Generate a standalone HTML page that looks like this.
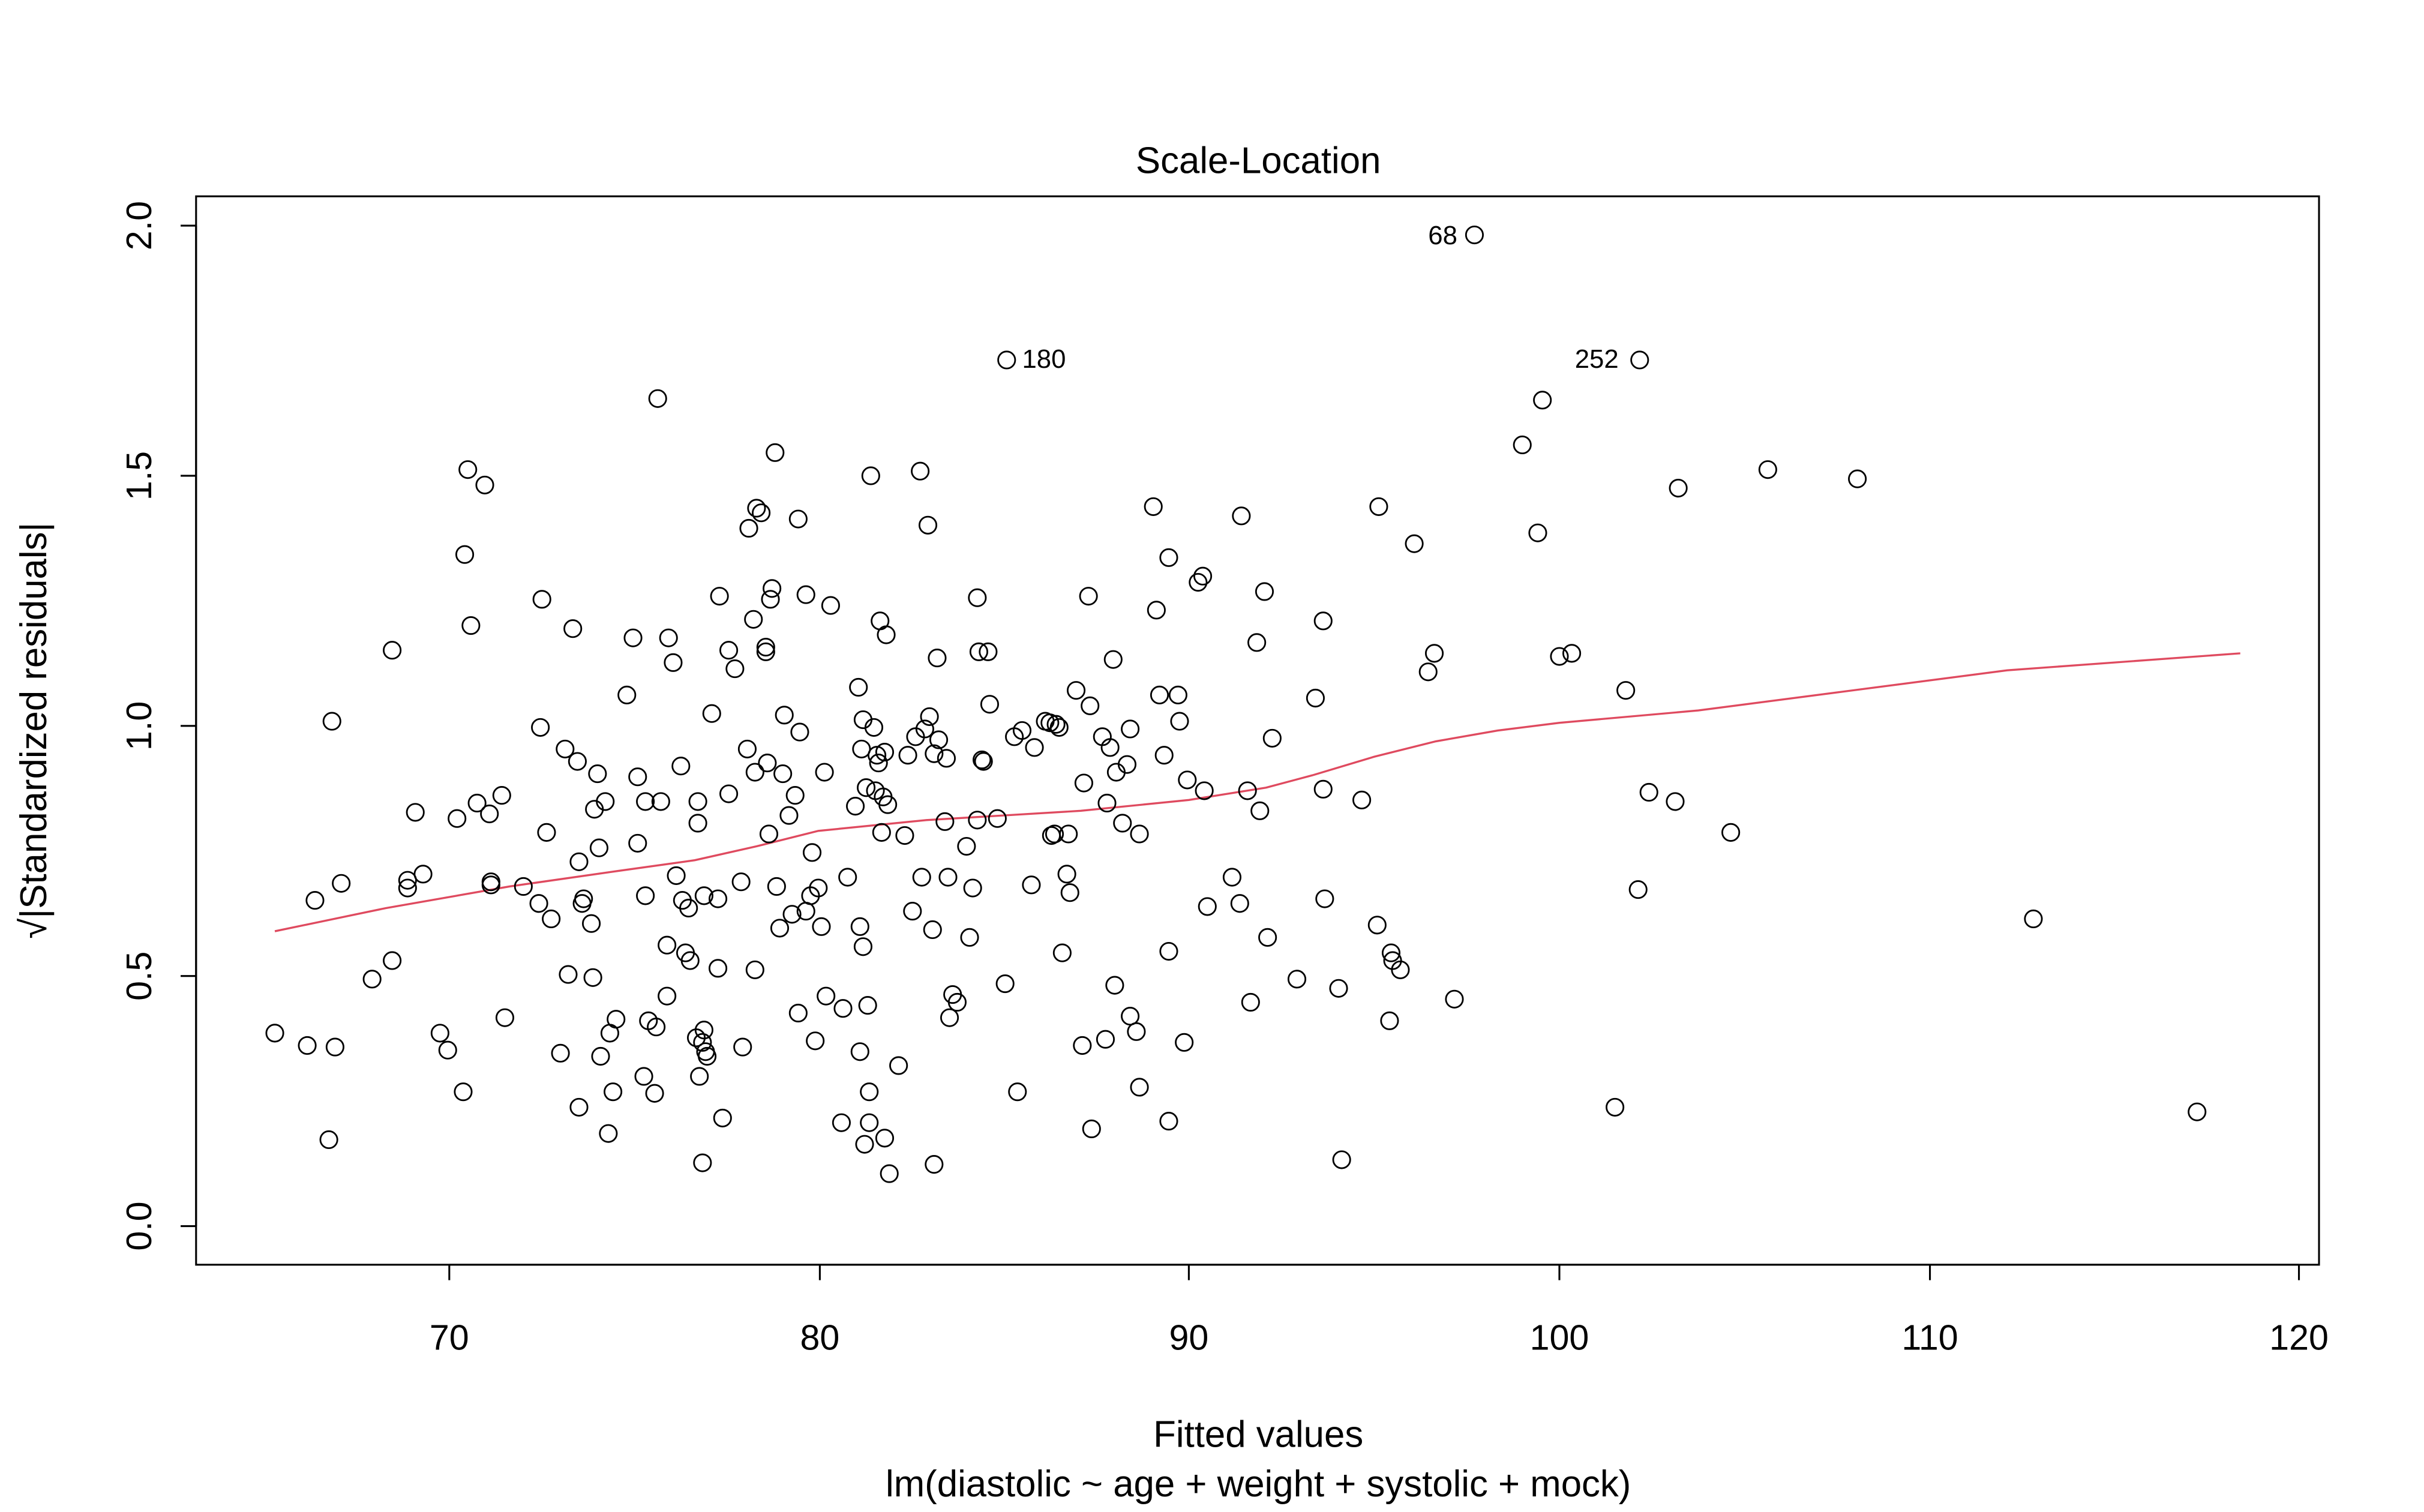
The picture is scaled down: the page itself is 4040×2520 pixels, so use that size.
<!DOCTYPE html>
<html><head><meta charset="utf-8"><style>html,body{margin:0;padding:0;background:#fff}svg{display:block}</style></head>
<body>
<svg width="4040" height="2520" viewBox="0 0 1570 979" xmlns="http://www.w3.org/2000/svg" font-family="Liberation Sans, Arial, sans-serif">
<rect width="1570" height="979" fill="#fff"/>
<rect x="127" y="127" width="1375" height="692" fill="none" stroke="#000" stroke-width="1.2"/>
<g stroke="#000" stroke-width="1.2">
<line x1="291" y1="819" x2="1489" y2="819"/>
<line x1="291" y1="819" x2="291" y2="829"/><line x1="531" y1="819" x2="531" y2="829"/><line x1="770" y1="819" x2="770" y2="829"/><line x1="1010" y1="819" x2="1010" y2="829"/><line x1="1250" y1="819" x2="1250" y2="829"/><line x1="1489" y1="819" x2="1489" y2="829"/>
<line x1="127" y1="146" x2="127" y2="794"/>
<line x1="117" y1="794" x2="127" y2="794"/><line x1="117" y1="632" x2="127" y2="632"/><line x1="117" y1="470" x2="127" y2="470"/><line x1="117" y1="308" x2="127" y2="308"/><line x1="117" y1="146" x2="127" y2="146"/>
</g>
<g font-size="23" text-anchor="middle" fill="#000">
<text x="291" y="874">70</text><text x="531" y="874">80</text><text x="770" y="874">90</text><text x="1010" y="874">100</text><text x="1250" y="874">110</text><text x="1489" y="874">120</text>
<text transform="translate(98,794) rotate(-90)">0.0</text>
<text transform="translate(98,632) rotate(-90)">0.5</text>
<text transform="translate(98,470) rotate(-90)">1.0</text>
<text transform="translate(98,308) rotate(-90)">1.5</text>
<text transform="translate(98,146) rotate(-90)">2.0</text>
</g>
<g font-size="24" text-anchor="middle" fill="#000">
<text x="815" y="112">Scale-Location</text>
<text x="815" y="937">Fitted values</text>
<text x="815" y="969">lm(diastolic ~ age + weight + systolic + mock)</text>
<text transform="translate(30,473) rotate(-90)">√|Standardized residuals|</text>
</g>
<g font-size="17" fill="#000">
<text x="925" y="158">68</text><text x="662" y="238">180</text><text x="1020" y="238">252</text>
</g>
<polyline fill="none" stroke="#df4a5f" stroke-width="1.3" points="178,603 250,588 330,574 400,564 450,557 490,548 530,538 600,531 700,525 770,518 820,510 850,502 890,490 930,480 970,473 1010,468 1100,460 1200,447 1300,434 1451,423"/>
<path id="pts" fill="none" stroke="#000" stroke-width="1.1" d=""/>
</svg>
<script>
var p=[178,669,199,677,217,678,213,738,204,583,221,572,215,467,241,634,254,622,254,421,264,570,264,575,274,566,269,526,285,669,290,680,300,707,296,530,303,304,301,359,305,405,309,520,314,314,317,527,318,571,318,573,325,515,327,659,339,574,349,585,350,471,351,388,354,539,357,595,363,682,366,485,368,631,371,407,375,558,374,493,375,717,377,585,378,582,383,598,384,633,385,524,387,501,388,549,389,684,392,519,394,734,395,669,399,660,397,707,406,450,410,413,413,503,413,546,417,697,418,580,418,519,420,661,424,708,425,665,426,258,428,519,432,612,432,645,433,413,436,429,438,567,441,496,442,583,444,617,446,588,447,622,451,672,452,533,452,519,453,697,455,753,456,667,457,681,455,675,456,580,458,684,461,462,465,627,465,582,466,386,468,724,472,421,472,514,476,433,480,571,481,678,484,485,485,342,488,401,489,500,489,628,490,329,493,332,496,422,496,419,497,494,498,540,499,388,500,381,502,293,503,574,505,601,507,501,508,463,511,528,513,592,515,515,517,656,518,474,517,336,522,385,522,590,525,580,526,552,528,674,530,575,532,600,534,500,535,645,538,392,545,727,546,653,549,568,554,522,556,445,557,600,557,681,558,485,559,466,559,613,560,741,561,510,562,651,563,707,563,727,564,308,566,471,567,512,568,489,569,494,570,402,571,539,572,516,573,737,573,487,574,411,575,521,576,760,582,690,586,541,588,489,591,590,593,477,596,305,597,568,599,472,601,340,602,464,604,602,605,754,605,488,607,426,608,479,612,532,613,491,614,568,615,659,617,644,620,649,626,548,628,607,630,575,633,387,633,531,634,422,636,492,637,493,640,422,641,456,646,530,651,637,652,233,657,477,659,707,662,473,668,573,670,484,677,467,680,468,681,541,683,540,684,469,686,471,688,617,691,566,692,540,693,578,697,447,701,677,702,507,705,386,706,457,707,731,714,477,716,673,717,520,719,484,721,427,722,638,723,500,727,533,730,495,732,658,732,472,736,668,738,540,738,704,747,328,749,395,751,450,754,489,757,361,757,616,757,726,763,450,764,467,767,675,769,505,776,377,779,373,780,512,782,587,798,568,803,585,804,334,808,512,810,649,814,416,816,525,819,383,821,607,824,478,840,634,852,452,857,402,857,511,858,582,869,751,867,640,882,518,893,328,892,599,900,661,901,617,902,622,907,628,916,352,925,435,929,423,942,647,955,152,986,288,996,345,999,259,1010,425,1018,423,1046,717,1053,447,1061,576,1062,233,1068,513,1087,316,1085,519,1121,539,1145,304,1203,310,1317,595,1423,720];
var d='';
for(var i=0;i<p.length;i+=2){var x=p[i]-5.5,y=p[i+1];d+='M'+x+','+y+'a5.5,5.5 0 1,0 11,0a5.5,5.5 0 1,0 -11,0';}
document.getElementById('pts').setAttribute('d',d);
</script>
</body></html>
